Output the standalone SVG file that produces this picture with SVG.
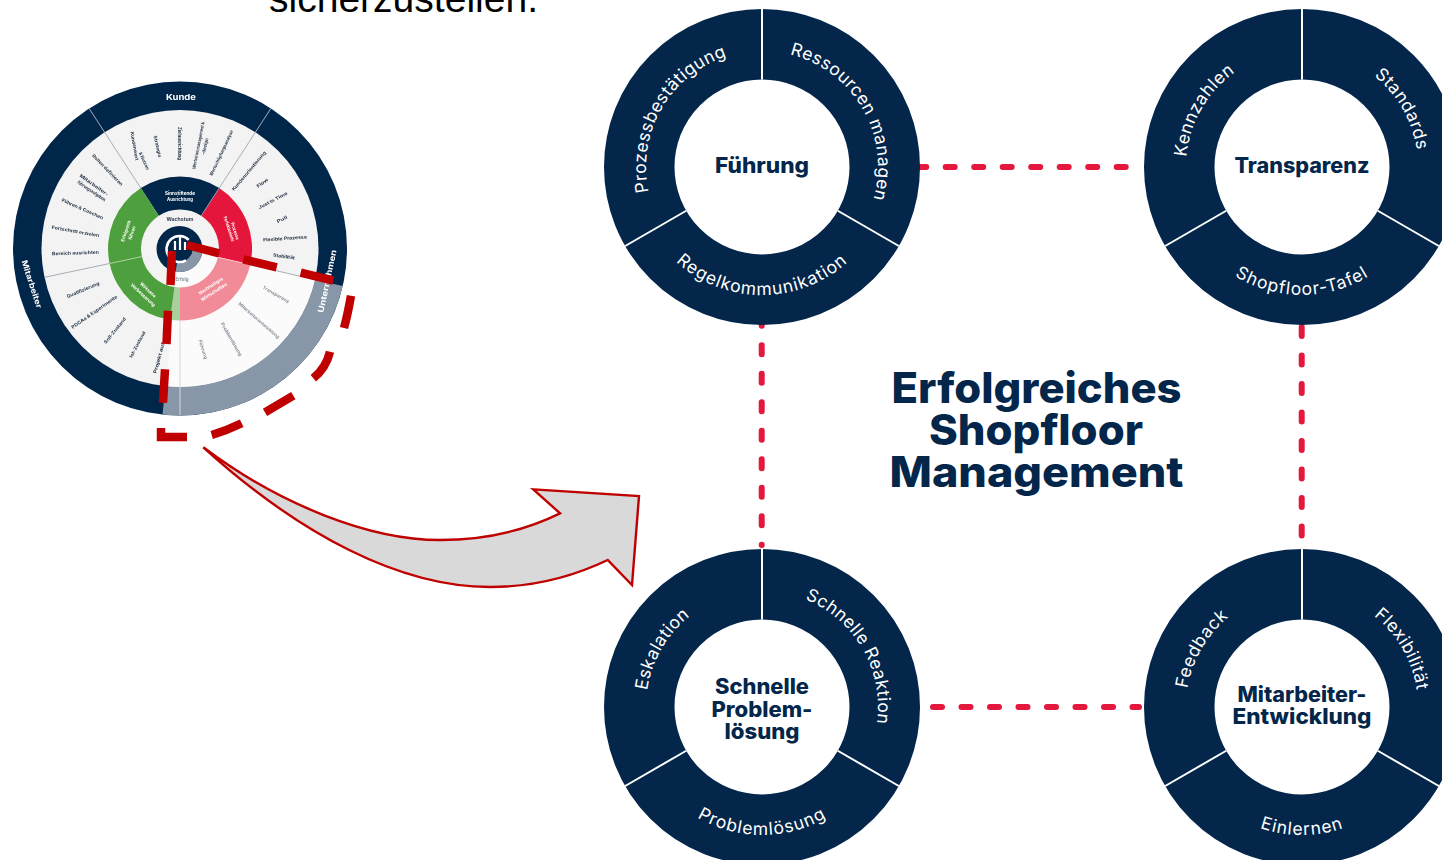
<svg xmlns="http://www.w3.org/2000/svg" width="1442" height="860" viewBox="0 0 1442 860">
<style>
.navy{fill:#03264a}
.ttl{font-family:Inter,"Liberation Sans",sans-serif;font-weight:800;fill:#03264a;text-anchor:middle}
.h{font-size:21px}
.big{font-size:42px}
.lab{font-family:Inter,"Open Sans",sans-serif;font-weight:400;font-size:17.5px;fill:#fff;text-anchor:middle;letter-spacing:.45px}
.bot{letter-spacing:.95px}
.w{font-family:Inter,"Liberation Sans",sans-serif;font-weight:700;font-size:4.6px;fill:#2b3a4d;text-anchor:middle;dominant-baseline:central}
.wf{fill:#8a929c}
.wl{fill:#fff}
.band{font-size:8px;fill:#fff}
.sep{stroke:#a5aeb9;stroke-width:1;fill:none}
.conn{fill:none;stroke:#e4173c;stroke-width:6;stroke-linecap:round;stroke-dasharray:9 19.5}
.dash{fill:none;stroke:#c00000;stroke-width:8.5}
</style>
<defs>
<filter id="soft" x="-5%" y="-5%" width="110%" height="110%"><feGaussianBlur stdDeviation="0.6"/></filter>
<g id="donut">
<circle r="122.75" fill="none" stroke="#03264a" stroke-width="70.5"/>
<path d="M0,-158V-87.5M75.8,43.75L136.8,79M-75.8,43.75L-136.8,79" stroke="#fff" stroke-width="2" fill="none"/>
</g>
<path id="arc-r" d="M-58,-100.5A116 116 0 0 1 58,100.5"/>
<path id="arc-l" d="M-58,100.5A116 116 0 0 1 58,-100.5"/>
<path id="arc-b" d="M-128,0A128 128 0 0 0 128,0"/>
</defs>

<text x="269" y="11.5" font-family="'Liberation Sans',Arial,sans-serif" font-size="38.5" fill="#000" textLength="269" lengthAdjust="spacingAndGlyphs">sicherzustellen.</text>

<g id="connectors">
<path class="conn" d="M917.2,167H1128"/>
<path class="conn" d="M933,707H1139"/>
<path class="conn" d="M761.7,316.8V545"/>
<path class="conn" d="M1301.7,327V536"/>
</g>

<g id="wheel" filter="url(#soft)">
<circle cx="180" cy="248.5" r="167" fill="#03264a"/>
<path d="M342.7,286.1A167 167 0 0 1 162.5,414.6L165.5,386.2A138.5 138.5 0 0 0 315,279.7Z" fill="#8797a8"/>
<circle cx="180" cy="248.5" r="138.5" fill="#f3f3f3"/>
<path d="M180,248.5L315,279.7A138.5 138.5 0 0 1 165.5,386.2Z" fill="#fbfbfb"/>
<path class="sep" d="M270.9,108.4L219.2,188.1M89.1,108.4L140.8,188.1M44.5,277.3L109.6,263.5M250.2,264.7L315,279.7"/>
<path d="M180,320.5V415" stroke="#d5d8dc" stroke-width="1" fill="none"/>
<path d="M140.8,188.1A72 72 0 0 1 219.2,188.1L201.2,215.8A39 39 0 0 0 158.8,215.8Z" fill="#03264a"/>
<path d="M219.2,188.1A72 72 0 0 1 250.2,264.7L218,257.3A39 39 0 0 0 201.2,215.8Z" fill="#e4163a"/>
<path d="M250.2,264.7A72 72 0 0 1 180,320.5V287.5A39 39 0 0 0 218,257.3Z" fill="#f28b98"/>
<path d="M180,320.5A72 72 0 0 1 170,319.8L174.6,287.1A39 39 0 0 0 180,287.5Z" fill="#a9d09c"/>
<path d="M170,319.8A72 72 0 0 1 109.6,263.5L141.9,256.6A39 39 0 0 0 174.6,287.1Z" fill="#4ea03c"/>
<path d="M109.6,263.5A72 72 0 0 1 140.8,188.1L158.8,215.8A39 39 0 0 0 141.9,256.6Z" fill="#4ea03c"/>
<path d="M109.6,263.5L141.9,256.6" stroke="#a9d09c" stroke-width="1"/>
<path d="M250.2,264.7L218,257.3" stroke="#f9c4cb" stroke-width="1"/>
<path d="M219.2,188.1L201.2,215.8" stroke="#8797a8" stroke-width="1"/>
<circle cx="179.5" cy="249" r="23" fill="#03264a"/>
<path d="M197.4,247.4A18 18 0 0 1 176.4,266.7" stroke="#8797a8" stroke-width="10" fill="none"/>
<path d="M188.7,239.8A13 13 0 1 0 186,260.3" stroke="#fff" stroke-width="2.6" fill="none"/>
<path d="M175,250V241M180,250V237M185,250V242" stroke="#fff" stroke-width="2.2" fill="none"/>

<text class="w band" transform="translate(181 97)" textLength="30" lengthAdjust="spacingAndGlyphs">Kunde</text>
<text class="w band" transform="translate(32 284) rotate(72)" textLength="50" lengthAdjust="spacingAndGlyphs">Mitarbeiter</text>
<text class="w band" transform="translate(327 281) rotate(-78)" textLength="64" lengthAdjust="spacingAndGlyphs">Unternehmen</text>

<text class="w wl" transform="translate(180 193)" textLength="30" lengthAdjust="spacingAndGlyphs">Sinnstiftende</text>
<text class="w wl" transform="translate(180 199)" textLength="26" lengthAdjust="spacingAndGlyphs">Ausrichtung</text>
<text class="w" transform="translate(180 219)" textLength="27" lengthAdjust="spacingAndGlyphs">Wachstum</text>
<text class="w wf" transform="translate(182 279)" textLength="13" lengthAdjust="spacingAndGlyphs">Erfolg</text>
<text class="w wl" transform="translate(229 229) rotate(72)" textLength="26" lengthAdjust="spacingAndGlyphs">Perfektionierte</text>
<text class="w wl" transform="translate(235 231) rotate(72)" textLength="18" lengthAdjust="spacingAndGlyphs">Prozesse</text>
<text class="w wl" transform="translate(126 231) rotate(-72)" textLength="22" lengthAdjust="spacingAndGlyphs">Erfolgreich</text>
<text class="w wl" transform="translate(132 233) rotate(-72)" textLength="14" lengthAdjust="spacingAndGlyphs">führen</text>
<text class="w wl" transform="translate(148 290) rotate(43)" textLength="20" lengthAdjust="spacingAndGlyphs">Wirksame</text>
<text class="w wl" transform="translate(143 295) rotate(43)" textLength="32" lengthAdjust="spacingAndGlyphs">Verbesserung</text>
<text class="w wl" transform="translate(211 286) rotate(-33)" textLength="28" lengthAdjust="spacingAndGlyphs">Nachhaltiges</text>
<text class="w wl" transform="translate(214 292) rotate(-33)" textLength="30" lengthAdjust="spacingAndGlyphs">Wirtschaften</text>

<text class="w" transform="translate(134.5 146) rotate(80)" textLength="29" lengthAdjust="spacingAndGlyphs">Kundenwert</text>
<text class="w" transform="translate(144 161) rotate(65)" textLength="19" lengthAdjust="spacingAndGlyphs">&amp; Nutzen</text>
<text class="w" transform="translate(157.5 146.5) rotate(77)" textLength="22" lengthAdjust="spacingAndGlyphs">Strategie</text>
<text class="w" transform="translate(179.5 143.5) rotate(90)" textLength="33" lengthAdjust="spacingAndGlyphs">Zielausrichtung</text>
<text class="w" transform="translate(198.5 145.5) rotate(-79)" textLength="48" lengthAdjust="spacingAndGlyphs">Wertstrommanagement &amp;</text>
<text class="w" transform="translate(205 146.5) rotate(-77)" textLength="17" lengthAdjust="spacingAndGlyphs">-design</text>
<text class="w" transform="translate(221.5 153) rotate(-65)" textLength="50" lengthAdjust="spacingAndGlyphs">Wertschöpfungsanalyse</text>
<text class="w" transform="translate(249 171) rotate(-50)" textLength="50" lengthAdjust="spacingAndGlyphs">Kundenorientierung</text>
<text class="w" transform="translate(262.5 183) rotate(-36)" textLength="13" lengthAdjust="spacingAndGlyphs">Flow</text>
<text class="w" transform="translate(273 200.5) rotate(-28)" textLength="32" lengthAdjust="spacingAndGlyphs">Just in Time</text>
<text class="w" transform="translate(282 219.5) rotate(-27)" textLength="11" lengthAdjust="spacingAndGlyphs">Pull</text>
<text class="w" transform="translate(285 238.5) rotate(-4)" textLength="44" lengthAdjust="spacingAndGlyphs">Flexible Prozesse</text>
<text class="w" transform="translate(284 256.5) rotate(8)" textLength="22" lengthAdjust="spacingAndGlyphs">Stabilität</text>
<text class="w" transform="translate(107.5 170) rotate(46)" textLength="42" lengthAdjust="spacingAndGlyphs">Rollen definieren</text>
<text class="w" transform="translate(94 185) rotate(35)" textLength="34" lengthAdjust="spacingAndGlyphs">Mitarbeiter-</text>
<text class="w" transform="translate(91.5 191) rotate(34)" textLength="33" lengthAdjust="spacingAndGlyphs">führungsaufgaben</text>
<text class="w" transform="translate(82.5 209) rotate(24)" textLength="45" lengthAdjust="spacingAndGlyphs">Führen &amp; Coachen</text>
<text class="w" transform="translate(75.5 231.5) rotate(10)" textLength="48" lengthAdjust="spacingAndGlyphs">Fortschritt erzielen</text>
<text class="w" transform="translate(75.5 253) rotate(-2)" textLength="47" lengthAdjust="spacingAndGlyphs">Bereich ausrichten</text>
<text class="w" transform="translate(83 290) rotate(-23)" textLength="35" lengthAdjust="spacingAndGlyphs">Qualifizierung</text>
<text class="w" transform="translate(94.5 312) rotate(-35)" textLength="55" lengthAdjust="spacingAndGlyphs">PDCAs &amp; Experimente</text>
<text class="w" transform="translate(115 330.5) rotate(-51)" textLength="32" lengthAdjust="spacingAndGlyphs">Soll-Zustand</text>
<text class="w" transform="translate(137.5 344.5) rotate(-62)" textLength="29" lengthAdjust="spacingAndGlyphs">Ist-Zustand</text>
<text class="w" transform="translate(159 358) rotate(-75)" textLength="32" lengthAdjust="spacingAndGlyphs">Projekt auf</text>
<text class="w wf" transform="translate(276 294.5) rotate(30)" textLength="30" lengthAdjust="spacingAndGlyphs">Transparenz</text>
<text class="w wf" transform="translate(259 320.5) rotate(41)" textLength="53" lengthAdjust="spacingAndGlyphs">Mitarbeiterentwicklung</text>
<text class="w wf" transform="translate(231.5 339.5) rotate(60)" textLength="38" lengthAdjust="spacingAndGlyphs">Problemlösung</text>
<text class="w wf" transform="translate(203 349.5) rotate(72)" textLength="20" lengthAdjust="spacingAndGlyphs">Führung</text>
</g>

<g id="wheel-outline">
<path class="dash" d="M186.7,245L219.3,253.3M243.3,259.3L276.7,267.3M300.7,272.7L333.3,280.7M351,295.7C349,307 347,317 344,328M330,351.7C327,364 321,372 313.3,378.3M293.3,395.7L265,412.3M241.7,423.3C232,428 222,432 211.7,435M161,428V437H187M172,251L170.5,285M168,310.7L166.5,344M165,369.3L163,402.7"/>
</g>

<g id="arrow">
<path d="M203.3,447.3C280,505 370,540 440,540C480,540 520,533 560,513.3L533.3,489.3L639,496L632,585L607.7,560C570,578 530,587 490,587C400,587 300,535 203.3,447.3Z" fill="#d9d9d9" stroke="#c00000" stroke-width="2.4"/>
</g>

<g id="title"><text class="ttl big" x="1036.5" y="403" textLength="290" lengthAdjust="spacingAndGlyphs">Erfolgreiches</text><text class="ttl big" x="1036" y="445" textLength="214" lengthAdjust="spacingAndGlyphs">Shopfloor</text><text class="ttl big" x="1036.5" y="487" textLength="294" lengthAdjust="spacingAndGlyphs">Management</text></g>

<g id="node-fuehrung" transform="translate(762 167)">
<use href="#donut"/>
<text class="lab"><textPath href="#arc-l" startOffset="50%">Prozessbestätigung</textPath></text>
<text class="lab"><textPath href="#arc-r" startOffset="50%">Ressourcen managen</textPath></text>
<text class="lab bot"><textPath href="#arc-b" startOffset="50%">Regelkommunikation</textPath></text>
<text class="ttl h" y="6" textLength="94" lengthAdjust="spacingAndGlyphs">Führung</text>
</g>
<g id="node-transparenz" transform="translate(1302 167)">
<use href="#donut"/>
<text class="lab"><textPath href="#arc-l" startOffset="50%">Kennzahlen</textPath></text>
<text class="lab"><textPath href="#arc-r" startOffset="50%">Standards</textPath></text>
<text class="lab bot"><textPath href="#arc-b" startOffset="50%">Shopfloor-Tafel</textPath></text>
<text class="ttl h" y="6" textLength="135" lengthAdjust="spacingAndGlyphs">Transparenz</text>
</g>
<g id="node-problemloesung" transform="translate(762 707)">
<use href="#donut"/>
<text class="lab"><textPath href="#arc-l" startOffset="50%">Eskalation</textPath></text>
<text class="lab"><textPath href="#arc-r" startOffset="50%">Schnelle Reaktion</textPath></text>
<text class="lab bot"><textPath href="#arc-b" startOffset="50%">Problemlösung</textPath></text>
<text class="ttl h" y="-13" textLength="94" lengthAdjust="spacingAndGlyphs">Schnelle</text><text class="ttl h" y="9.5" textLength="101" lengthAdjust="spacingAndGlyphs">Problem-</text><text class="ttl h" y="32" textLength="75" lengthAdjust="spacingAndGlyphs">lösung</text>
</g>
<g id="node-mitarbeiter" transform="translate(1302 707)">
<use href="#donut"/>
<text class="lab"><textPath href="#arc-l" startOffset="50%">Feedback</textPath></text>
<text class="lab"><textPath href="#arc-r" startOffset="50%">Flexibilität</textPath></text>
<text class="lab bot"><textPath href="#arc-b" startOffset="50%">Einlernen</textPath></text>
<text class="ttl h" y="-5" textLength="129" lengthAdjust="spacingAndGlyphs">Mitarbeiter-</text><text class="ttl h" y="17" textLength="139" lengthAdjust="spacingAndGlyphs">Entwicklung</text>
</g>
</svg>
